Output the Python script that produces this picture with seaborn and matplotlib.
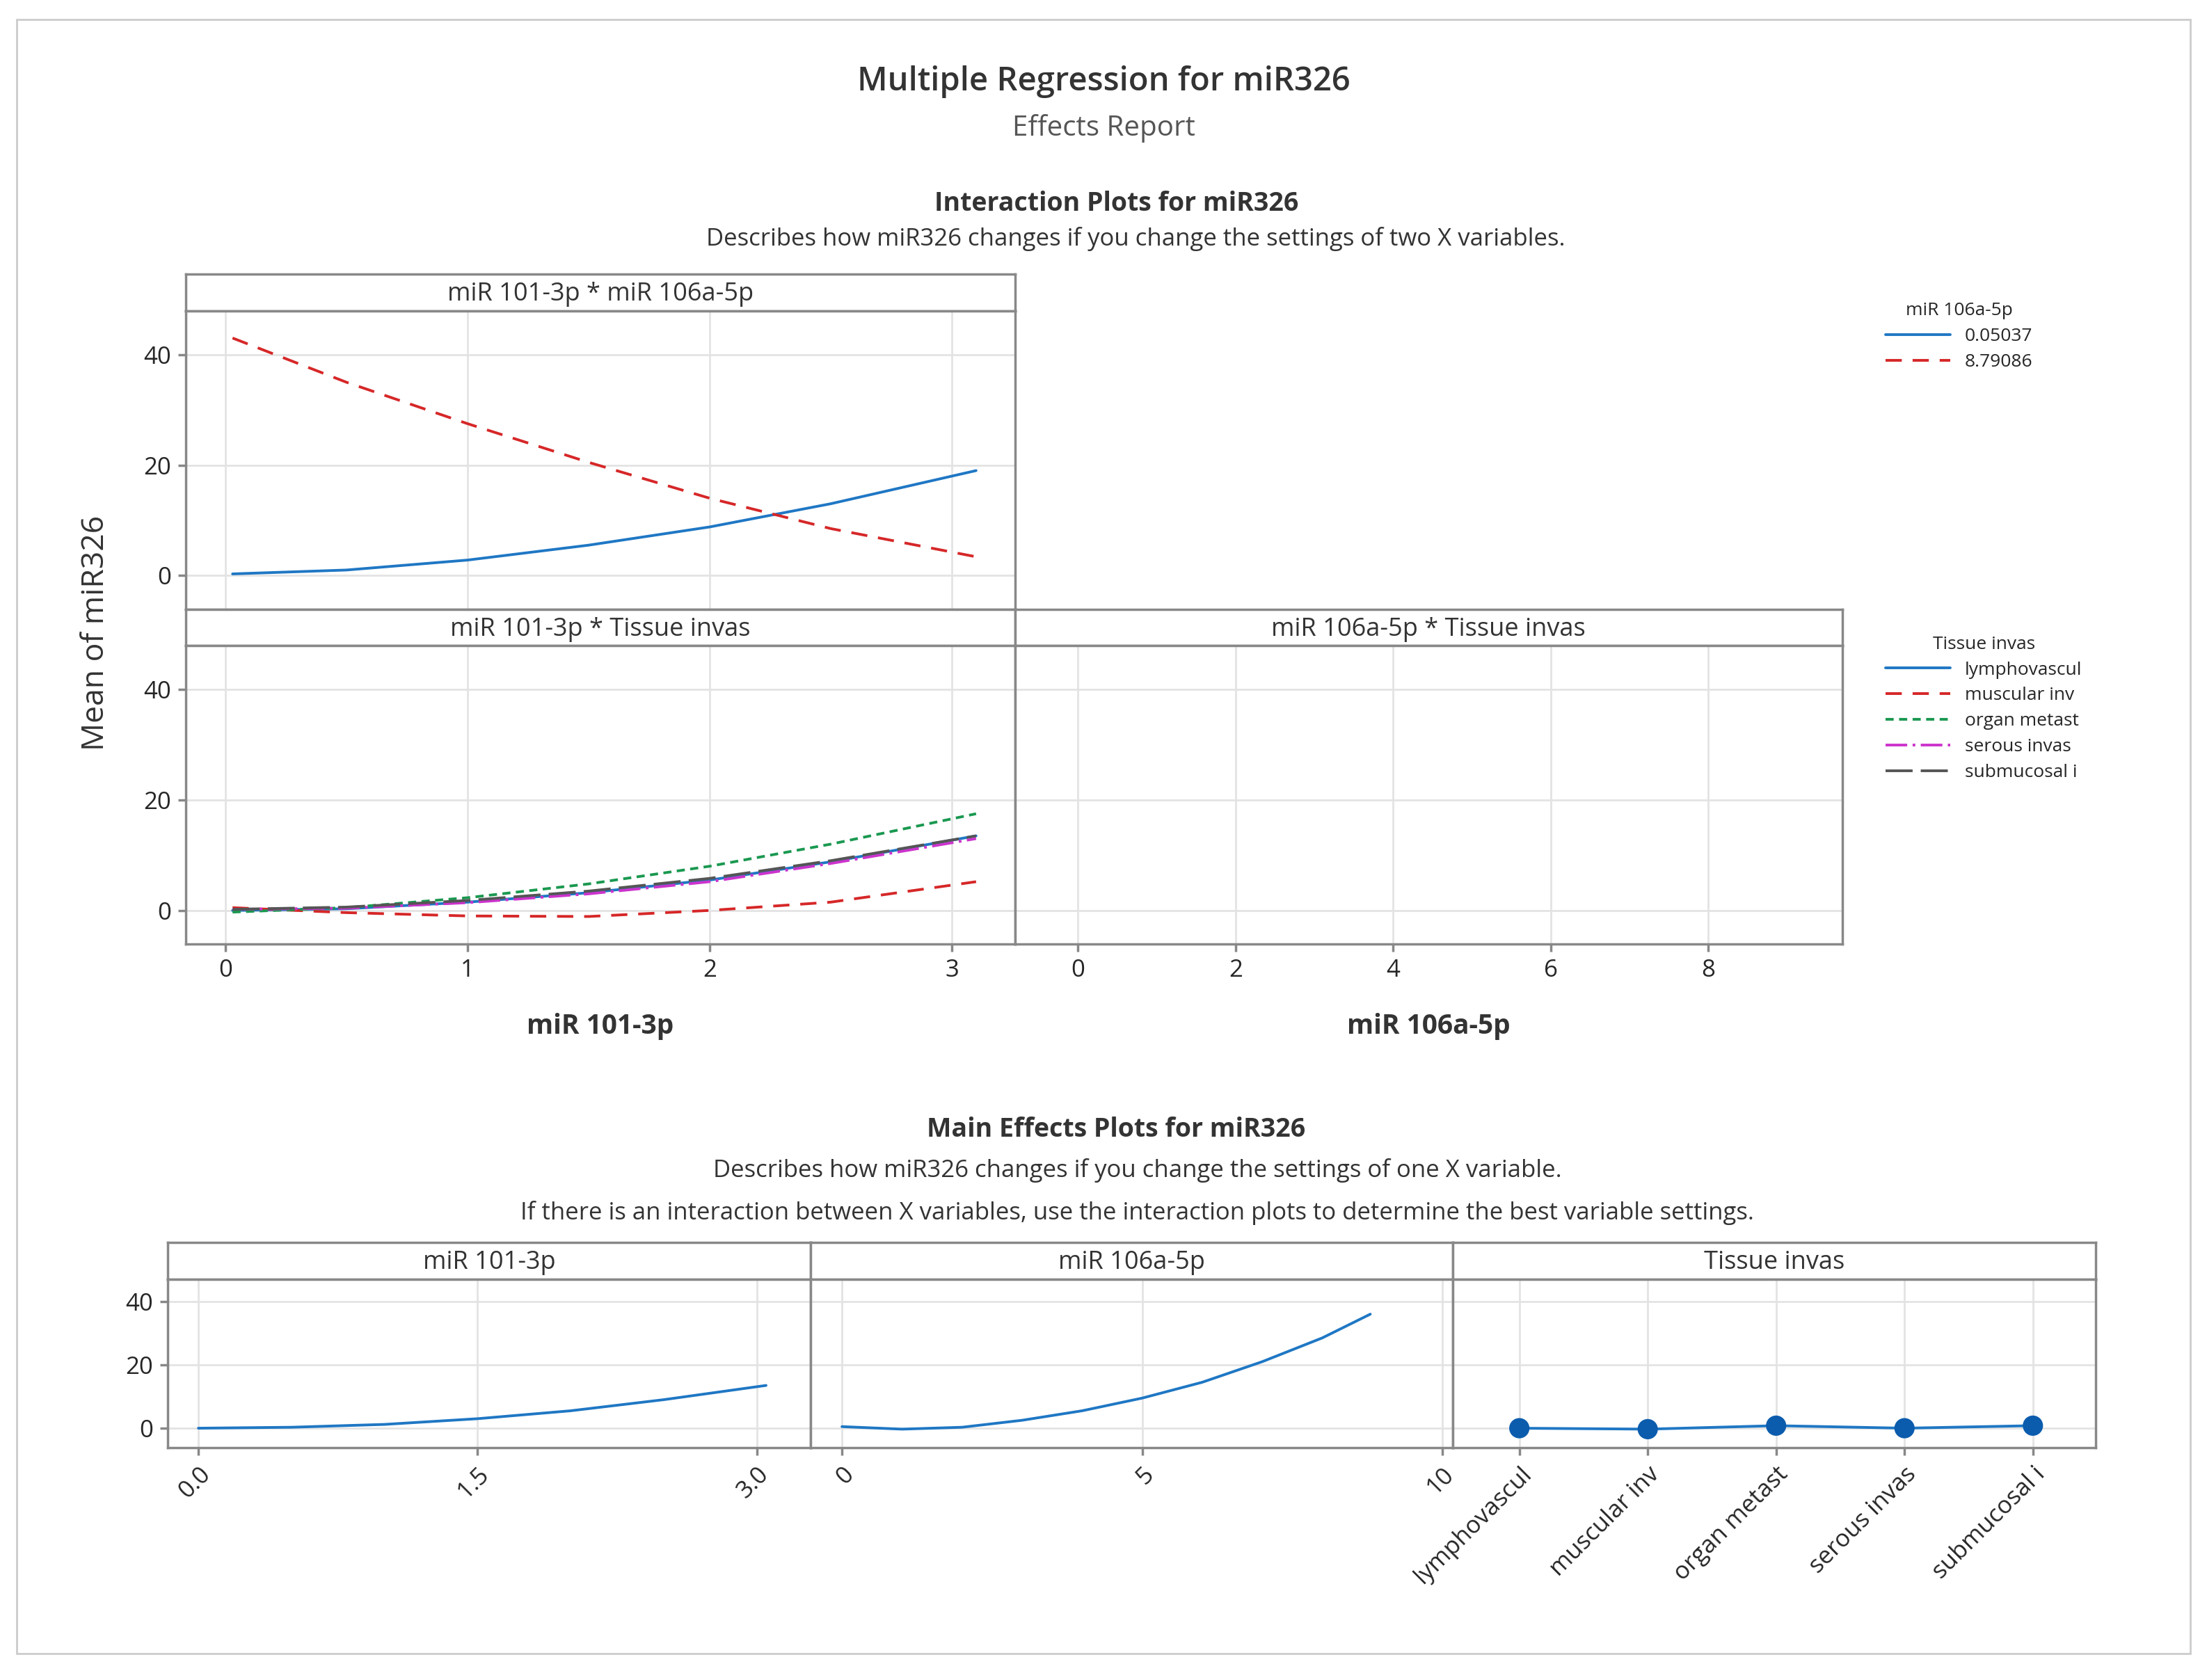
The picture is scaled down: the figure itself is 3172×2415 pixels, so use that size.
import numpy as np
import pandas as pd
import matplotlib.pyplot as plt
import seaborn as sns
from matplotlib.patches import Rectangle
from matplotlib.lines import Line2D

sns.set_theme(style='white')
plt.rcParams['font.family'] = 'Open Sans'

# ---- data ----
x101 = [0.03, 0.5, 1.0, 1.5, 2.0, 2.5, 3.1]
int_low106 = [0.3, 1.0, 2.8, 5.5, 8.8, 13.0, 19.0]
int_high106 = [43.0, 35.0, 27.5, 20.5, 14.0, 8.5, 3.4]

tissue_levels = ['lymphovascul', 'muscular inv', 'organ metast', 'serous invas', 'submucosal i']
tissue_curves = {
    'lymphovascul': [0.0, 0.3, 1.5, 3.2, 5.5, 8.8, 13.5],
    'muscular inv': [0.5, -0.4, -1.0, -1.1, 0.0, 1.5, 5.2],
    'organ metast': [-0.3, 0.5, 2.3, 4.8, 8.0, 12.0, 17.5],
    'serous invas': [0.2, 0.4, 1.4, 3.0, 5.2, 8.5, 13.0],
    'submucosal i': [0.2, 0.6, 1.8, 3.5, 5.8, 9.0, 13.5],
}

main101_x = [0.0, 0.5, 1.0, 1.5, 2.0, 2.5, 3.05]
main101_y = [0.0, 0.3, 1.2, 3.0, 5.5, 9.0, 13.5]
main106_x = [0.0, 1.0, 2.0, 3.0, 4.0, 5.0, 6.0, 7.0, 8.0, 8.8]
main106_y = [0.5, -0.3, 0.3, 2.5, 5.5, 9.5, 14.5, 21.0, 28.5, 36.0]
main_tissue_y = [0.0, -0.3, 0.8, 0.0, 0.8]

colors = ['#1f77c4', '#d62728', '#1a9850', '#cc33cc', '#555555']
dashes = ['-', (0, (6, 4)), (0, (3, 2)), (0, (8, 2, 1, 2)), (0, (10, 3))]

W, H = 1568, 1194
fig = plt.figure(figsize=(15.86, 12.075), dpi=200)


def rect(x0, y0, x1, y1):
    return [x0 / W, 1 - y1 / H, (x1 - x0) / W, (y1 - y0) / H]


def ftext(x, y, s, **kw):
    fig.text(x / W, 1 - y / H, s, ha='center', va='center', **kw)


fig.patches.append(Rectangle((12 / W, 1 - 1175 / H), 1544 / W, 1161 / H,
                             transform=fig.transFigure, fill=False, ec='#cccccc', lw=1))
ftext(784, 58, 'Multiple Regression for miR326', fontsize=17, fontweight='semibold', color='#333333')
ftext(784, 91, 'Effects Report', fontsize=14.5, color='#555555')
ftext(793, 145, 'Interaction Plots for miR326', fontsize=13.5, fontweight='bold', color='#333333')
ftext(807, 170, 'Describes how miR326 changes if you change the settings of two X variables.',
      fontsize=12.5, color='#333333')
ftext(793, 803, 'Main Effects Plots for miR326', fontsize=13.5, fontweight='bold', color='#333333')
ftext(808, 832, 'Describes how miR326 changes if you change the settings of one X variable.',
      fontsize=12.5, color='#333333')
ftext(808, 862, 'If there is an interaction between X variables, use the interaction plots to determine the best variable settings.',
      fontsize=12.5, color='#333333')


def strip(x0, y0, x1, y1, label):
    a = fig.add_axes(rect(x0, y0, x1, y1))
    a.set_xticks([]); a.set_yticks([])
    for s in a.spines.values():
        s.set_color('#888888')
    a.text(0.5, 0.45, label, ha='center', va='center', fontsize=13, color='#333333',
           transform=a.transAxes)


def panel(x0, y0, x1, y1, xlim, ylim, xticks, yticks, showx=True, showy=True):
    a = fig.add_axes(rect(x0, y0, x1, y1))
    a.set_xlim(xlim); a.set_ylim(ylim)
    a.set_xticks(xticks); a.set_yticks(yticks)
    a.grid(True, color='#e3e3e3', lw=1)
    for s in a.spines.values():
        s.set_color('#888888')
    a.tick_params(axis='both', labelsize=12.5, length=4, color='#888888', direction='out',
                  bottom=showx, left=showy, labelbottom=showx, labelleft=showy)
    a.set_xlabel(''); a.set_ylabel('')
    return a


# ---- interaction plots ----
strip(132, 195, 721, 221, 'miR 101-3p * miR 106a-5p')
ax1 = panel(132, 221, 721, 433, (-0.163, 3.26), (-6.1, 47.9), [0, 1, 2, 3], [0, 20, 40], showx=False)
sns.lineplot(x=x101, y=int_low106, ax=ax1, color=colors[0], lw=1.4)
sns.lineplot(x=x101, y=int_high106, ax=ax1, color=colors[1], lw=1.4, linestyle=(0, (6, 4)))
ax1.set_xlabel(''); ax1.set_ylabel('')

strip(132, 433, 721, 459, 'miR 101-3p * Tissue invas')
ax2 = panel(132, 459, 721, 671, (-0.163, 3.26), (-6.1, 47.9), [0, 1, 2, 3], [0, 20, 40])
for lvl, c, d in zip(tissue_levels, colors, dashes):
    sns.lineplot(x=x101, y=tissue_curves[lvl], ax=ax2, color=c, lw=1.4, linestyle=d)
ax2.set_xlabel('miR 101-3p', fontsize=14, fontweight='bold', color='#333333', labelpad=16)
ax2.set_ylabel('')

strip(721, 433, 1309, 459, 'miR 106a-5p * Tissue invas')
ax3 = panel(721, 459, 1309, 671, (-0.8, 9.7), (-6.1, 47.9), [0, 2, 4, 6, 8], [0, 20, 40], showy=False)
ax3.set_xlabel('miR 106a-5p', fontsize=14, fontweight='bold', color='#333333', labelpad=16)

fig.text(68 / W, 1 - 450 / H, 'Mean of miR326', rotation=90, ha='center', va='center',
         fontsize=16, color='#333333')

# legends
h1 = [Line2D([], [], color=colors[0], lw=1.4),
      Line2D([], [], color=colors[1], lw=1.4, linestyle=(0, (6, 4)))]
fig.legend(h1, ['0.05037', '8.79086'], title='miR 106a-5p', loc='upper left',
           bbox_to_anchor=(1328 / W, 1 - 203 / H), frameon=False, fontsize=9.5,
           title_fontsize=9.5, handlelength=3.5, labelspacing=0.45)
h2 = [Line2D([], [], color=c, lw=1.4, linestyle=d) for c, d in zip(colors, dashes)]
fig.legend(h2, tissue_levels, title='Tissue invas', loc='upper left',
           bbox_to_anchor=(1328 / W, 1 - 440 / H), frameon=False, fontsize=9.5,
           title_fontsize=9.5, handlelength=3.5, labelspacing=0.45)

# ---- main effects ----
strip(119, 883, 576, 909, 'miR 101-3p')
m1 = panel(119, 909, 576, 1029, (-0.166, 3.29), (-6.2, 47.1), [0.0, 1.5, 3.0], [0, 20, 40])
sns.lineplot(x=main101_x, y=main101_y, ax=m1, color=colors[0], lw=1.4)
m1.set_xticklabels(['0.0', '1.5', '3.0'], rotation=45, ha='right', rotation_mode='anchor')
m1.set_xlabel(''); m1.set_ylabel('')

strip(576, 883, 1032, 909, 'miR 106a-5p')
m2 = panel(576, 909, 1032, 1029, (-0.52, 10.17), (-6.2, 47.1), [0, 5, 10], [0, 20, 40], showy=False)
sns.lineplot(x=main106_x, y=main106_y, ax=m2, color=colors[0], lw=1.4)
m2.set_xticklabels(['0', '5', '10'], rotation=45, ha='right', rotation_mode='anchor')
m2.set_xlabel(''); m2.set_ylabel('')

strip(1032, 883, 1489, 909, 'Tissue invas')
m3 = panel(1032, 909, 1489, 1029, (-0.52, 4.49), (-6.2, 47.1), range(5), [0, 20, 40], showy=False)
df_t = pd.DataFrame({'pos': range(5), 'mean': main_tissue_y})
sns.lineplot(data=df_t, x='pos', y='mean', ax=m3, color=colors[0], lw=1.4)
sns.scatterplot(data=df_t, x='pos', y='mean', ax=m3, color='#0b5cad', s=110, edgecolor='none', zorder=3)
m3.set_xticks(range(5))
m3.set_xticklabels(tissue_levels, rotation=45, ha='right', rotation_mode='anchor')
m3.set_xlabel(''); m3.set_ylabel('')

fig.savefig('out.png', dpi=200)
